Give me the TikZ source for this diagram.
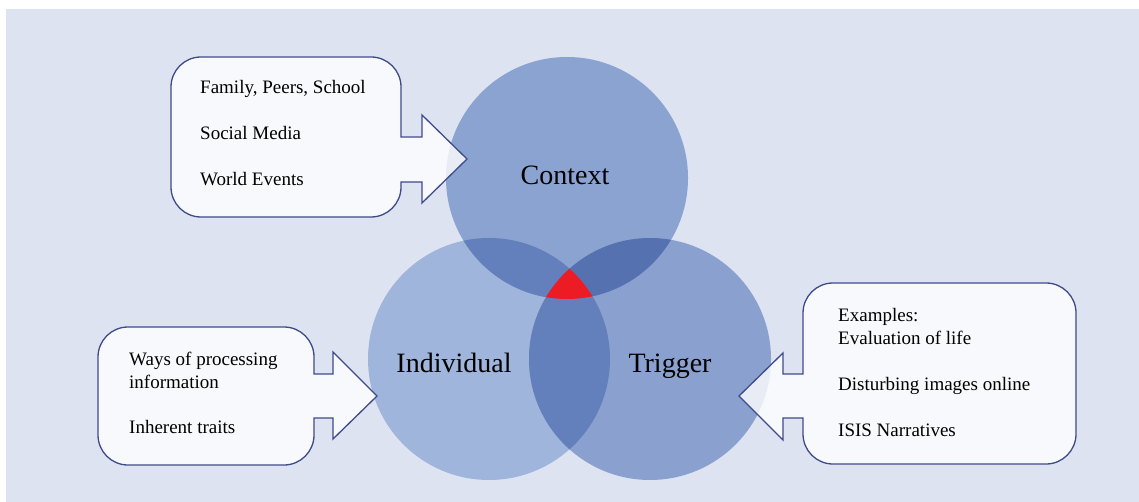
\documentclass[tikz,border=0pt]{standalone}
\usepackage{fontspec}
\setmainfont{Liberation Serif}
\definecolor{bgblue}{RGB}{222,227,241}
\definecolor{indblue}{RGB}{160,181,220}
\definecolor{ctxblue}{RGB}{139,163,208}
\definecolor{trgblue}{RGB}{138,161,207}
\definecolor{ovblue}{RGB}{99,128,188}
\definecolor{ovdark}{RGB}{85,113,176}
\definecolor{vennred}{RGB}{237,28,36}
\definecolor{calloutline}{RGB}{63,74,138}

\begin{document}
\begin{tikzpicture}[x=1pt, y=1pt,
  callout/.style={draw=calloutline, line width=1.3pt, fill=white, fill opacity=.8, line join=miter},
  venn/.style={font=\fontsize{28}{33}\selectfont, anchor=base},
  items/.style={font=\fontsize{19}{23}\selectfont, align=left, anchor=west, inner sep=0pt}]
\useasboundingbox (0,0) rectangle (1139,-502);
\fill[white] (0,0) rectangle (1139,-502);
\fill[bgblue] (6,-9) rectangle (1139,-502);

\coordinate (ctx) at (567,-178);
\coordinate (ind) at (489,-359);
\coordinate (trg) at (650,-359);

\fill[indblue] (ind) circle (121pt);
\fill[trgblue] (trg) circle (121pt);
\fill[ctxblue] (ctx) circle (121pt);
\begin{scope}
\clip (ctx) circle (121pt);
\fill[ovblue] (ind) circle (121pt);
\fill[ovdark] (trg) circle (121pt);
\end{scope}
\begin{scope}
\clip (ind) circle (121pt);
\fill[ovblue] (trg) circle (121pt);
\clip (ctx) circle (121pt);
\fill[vennred] (trg) circle (121pt);
\end{scope}

\node[venn] (ctxlabel) at (565,-185) {Context};
\node[venn] (indlabel) at (454,-372) {Individual};
\node[venn] (trglabel) at (670,-372) {Trigger};

\draw[callout] (467,-159) -- (422,-203) -- (422,-182) -- (401,-182) -- (401,-187)
  arc[start angle=0, end angle=-90, radius=30pt] -- (201,-217)
  arc[start angle=270, end angle=180, radius=30pt] -- (171,-87)
  arc[start angle=180, end angle=90, radius=30pt] -- (371,-57)
  arc[start angle=90, end angle=0, radius=30pt] -- (401,-137) -- (422,-137) -- (422,-115) -- cycle;
\draw[callout] (377,-396) -- (333,-439) -- (333,-418) -- (314,-418) -- (314,-435)
  arc[start angle=0, end angle=-90, radius=30pt] -- (128,-465)
  arc[start angle=270, end angle=180, radius=30pt] -- (98,-357)
  arc[start angle=180, end angle=90, radius=30pt] -- (284,-327)
  arc[start angle=90, end angle=0, radius=30pt] -- (314,-374) -- (333,-374) -- (333,-352) -- cycle;
\draw[callout] (739,-396) -- (783,-353) -- (783,-374) -- (803,-374) -- (803,-313)
  arc[start angle=180, end angle=90, radius=30pt] -- (1046,-283)
  arc[start angle=90, end angle=0, radius=30pt] -- (1076,-434)
  arc[start angle=0, end angle=-90, radius=30pt] -- (833,-464)
  arc[start angle=270, end angle=180, radius=30pt] -- (803,-418) -- (783,-418) -- (783,-440) -- cycle;

\node[items] (context) at (200,-133) {Family, Peers, School\\[23pt]Social Media\\[23pt]World Events};
\node[items] (individual) at (129,-393) {Ways of processing\\information\\[22pt]Inherent traits};
\node[items] (trigger) at (838,-372.5) {Examples:\\Evaluation of life\\[23pt]Disturbing images online\\[23pt]ISIS Narratives};
\end{tikzpicture}
\end{document}
